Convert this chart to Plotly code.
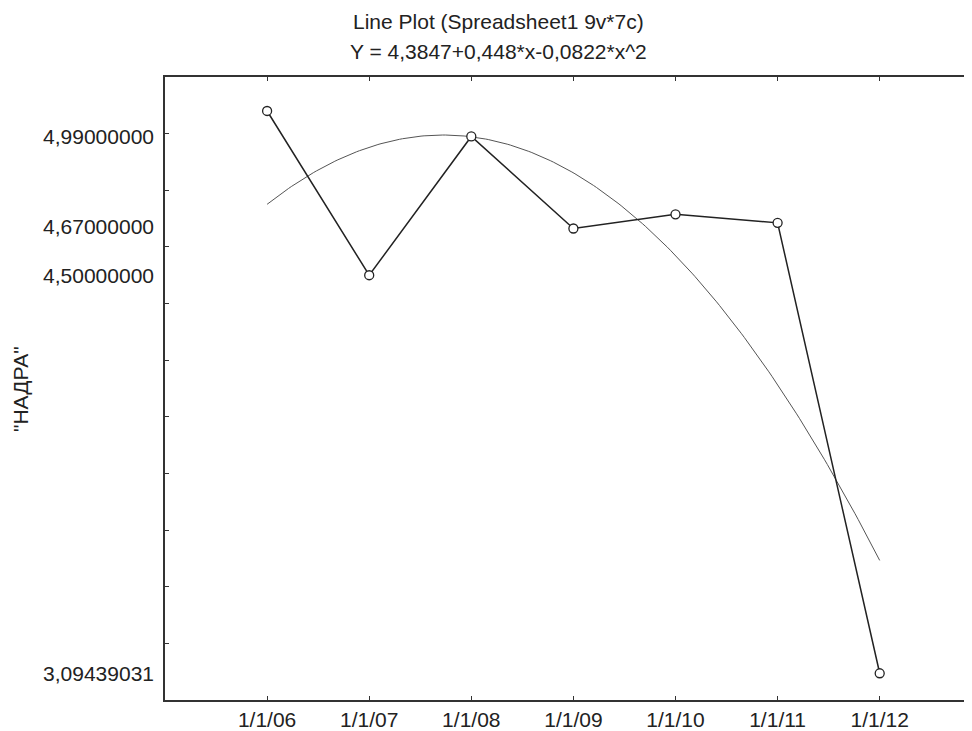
import numpy as np
import plotly.graph_objects as go

# ---- data ----
dates = ["1/1/06", "1/1/07", "1/1/08", "1/1/09", "1/1/10", "1/1/11", "1/1/12"]
nadra = [5.08, 4.5, 4.99, 4.665, 4.715, 4.685, 3.09439031]
fit_coefs = [4.3847, 0.448, -0.0822]          # Y = c0 + c1*x + c2*x^2 (from title)
y_label_vals = [4.99, 4.67, 4.5, 3.09439031]
y_label_text = ["4,99000000", "4,67000000", "4,50000000", "3,09439031"]
y_tick_marks = [round(3.0 + 0.2 * i, 1) for i in range(12)]

x_idx = list(range(1, len(dates) + 1))
x_fit = np.linspace(x_idx[0], x_idx[-1], 200)
y_fit = fit_coefs[0] + fit_coefs[1] * x_fit + fit_coefs[2] * x_fit ** 2

FONT = "Liberation Sans, Arial, sans-serif"
FS = 21
TXT = "#222222"
AX = "#333333"

# page body has an 8px margin; figure is sized/positioned to compensate
L, T, PW, PH = 157, 69, 807, 623

fig = go.Figure()
fig.add_trace(go.Scatter(x=x_fit, y=y_fit, mode="lines",
                         line=dict(color="#555555", width=1), hoverinfo="skip"))
fig.add_trace(go.Scatter(x=x_idx, y=nadra, mode="lines+markers",
                         line=dict(color="#222222", width=1.5),
                         marker=dict(symbol="circle", size=9, color="white",
                                     line=dict(color="#222222", width=1.3))))

yr = [3.0, 5.2]
fig.update_layout(
    width=L + PW, height=T + PH + 31,
    margin=dict(l=L, r=0, t=T, b=31, autoexpand=False),
    paper_bgcolor="white", plot_bgcolor="white",
    showlegend=False,
    font=dict(family=FONT, size=FS, color=TXT),
    xaxis=dict(range=[0, 7.904], tickmode="array", tickvals=x_idx, ticktext=dates,
               ticks="inside", ticklen=4, tickcolor=AX, tickwidth=1.3,
               showline=True, linecolor=AX, linewidth=1.5, mirror="ticks",
               showgrid=False, zeroline=False, automargin=False,
               tickfont=dict(family=FONT, size=FS, color=TXT)),
    yaxis=dict(range=yr, tickmode="array", tickvals=y_tick_marks,
               showticklabels=False, ticks="inside", ticklen=4, tickcolor=AX,
               tickwidth=1.3, showline=True, linecolor=AX, linewidth=1.5,
               showgrid=False, zeroline=False, automargin=False),
    yaxis2=dict(range=yr, overlaying="y", side="left", tickmode="array",
                tickvals=y_label_vals, ticktext=y_label_text, ticks="",
                showline=False, showgrid=False, zeroline=False,
                ticklabelstandoff=10, automargin=False,
                tickfont=dict(family=FONT, size=FS, color=TXT)),
    annotations=[
        dict(text="Line Plot (Spreadsheet1 9v*7c)", xref="paper", yref="paper",
             x=(498 - 165) / PW, y=(700 - 21) / PH, xanchor="center",
             yanchor="middle", showarrow=False,
             font=dict(family=FONT, size=FS, color=TXT)),
        dict(text="Y = 4,3847+0,448*x-0,0822*x^2", xref="paper", yref="paper",
             x=(498 - 165) / PW, y=(700 - 52) / PH, xanchor="center",
             yanchor="middle", showarrow=False,
             font=dict(family=FONT, size=FS, color=TXT)),
        dict(text='"НАДРА"', xref="paper", yref="paper",
             x=(20 - 165) / PW, y=(700 - 389) / PH, xanchor="center",
             yanchor="middle", textangle=-90, showarrow=False,
             font=dict(family=FONT, size=FS, color=TXT)),
    ],
)
# dummy trace to activate yaxis2
fig.add_trace(go.Scatter(x=[None], y=[None], yaxis="y2", showlegend=False,
                         hoverinfo="skip"))

fig.write_html("out.html")
